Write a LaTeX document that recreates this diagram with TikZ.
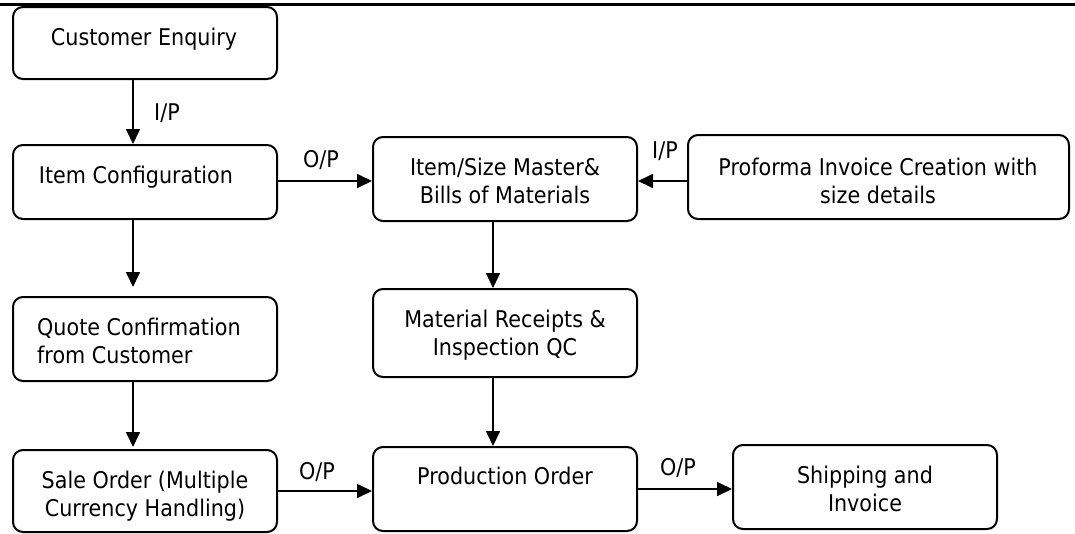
\documentclass[tikz,border=0pt]{standalone}
\usepackage{fontspec}
\setmainfont[FakeStretch=0.9]{DejaVu Sans}
\usetikzlibrary{arrows.meta}
\begin{document}
\begin{tikzpicture}[x=1pt,y=-1pt,
  box/.style={draw=black, line width=2pt, rounded corners=10pt, minimum width=264pt, inner sep=0pt},
  txt/.style={inner sep=0pt, font=\fontsize{23}{28}\selectfont, align=center},
  lbl/.style={inner sep=0pt, font=\fontsize{23}{28}\selectfont},
  arr/.style={line width=1.7pt, -{Triangle[length=15pt,width=14pt]}}]
\useasboundingbox (0,0) rectangle (1075,533);
\draw[line width=2.5pt] (0,4.5) -- (1075,4.5);
% boxes
\node[box, minimum height=72pt] (ce) at (145,43) {};
\node[box, minimum height=74pt] (ic) at (145,182) {};
\node[box, minimum height=84pt] (qc) at (145,339) {};
\node[box, minimum height=82pt] (so) at (145,491) {};
\node[box, minimum height=84pt] (ism) at (505,179) {};
\node[box, minimum height=84pt, minimum width=381pt] (pf) at (878.5,177) {};
\node[box, minimum height=88pt] (mr) at (505,333) {};
\node[box, minimum height=84pt] (po) at (505,489) {};
\node[box, minimum height=84pt] (sh) at (865,487) {};
% texts
\node[txt] (tce) at (144,39) {Customer Enquiry};
\node[txt] (tic) at (136,177.5) {Item Configuration};
\node[txt, align=left, anchor=west] (tqc) at (37,341) {Quote Confirmation\\from Customer};
\node[txt] (tso) at (145,496) {Sale Order (Multiple\\Currency Handling)};
\node[txt] (tism) at (505,181) {Item/Size Master\&\\Bills of Materials};
\node[txt] (tpf) at (878,180.5) {Proforma Invoice Creation with\\size details};
\node[txt] (tmr) at (505,335.5) {Material Receipts \&\\Inspection QC};
\node[txt] (tpo) at (505,476) {Production Order};
\node[txt] (tsh) at (865,489) {Shipping and\\Invoice};
% labels
\node[lbl] (l1) at (167,113) {I/P};
\node[lbl] (l2) at (321,160) {O/P};
\node[lbl] (l3) at (665,151) {I/P};
\node[lbl] (l4) at (317,472) {O/P};
\node[lbl] (l5) at (678,468) {O/P};
% arrows
\draw[arr] ([xshift=-12pt]ce.south) -- ([xshift=-12pt]ic.north);
\draw[arr, shorten >=9pt] ([xshift=-12pt]ic.south) -- ([xshift=-12pt]qc.north);
\draw[arr, shorten >=2pt] ([xshift=-12pt]qc.south) -- ([xshift=-12pt]so.north);
\draw[arr] ([yshift=1pt]ic.east) -- ([yshift=1pt]ic.east -| ism.west);
\draw[arr] ([yshift=-4pt]pf.west) -- ([yshift=-4pt]pf.west -| ism.east);
\draw[arr] ([xshift=-12pt]ism.south) -- ([xshift=-12pt]mr.north);
\draw[arr] ([xshift=-12pt]mr.south) -- ([xshift=-12pt]po.north);
\draw[arr] (so.east) -- (so.east -| po.west);
\draw[arr] (po.east) -- (po.east -| sh.west);
\end{tikzpicture}
\end{document}
